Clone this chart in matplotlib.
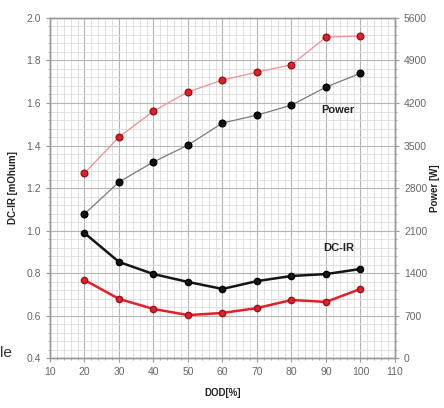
import matplotlib
matplotlib.use("Agg")
import matplotlib.pyplot as plt
from matplotlib.ticker import MultipleLocator

plt.rcParams['font.family'] = ['Liberation Sans Narrow', 'Liberation Sans', 'DejaVu Sans']

dod = [20, 30, 40, 50, 60, 70, 80, 90, 100]

# DC-IR [mOhum]
dcir_black = [0.988, 0.852, 0.795, 0.758, 0.725, 0.762, 0.786, 0.795, 0.819]
dcir_red = [0.767, 0.678, 0.631, 0.602, 0.612, 0.635, 0.673, 0.664, 0.725]

# Power [W]
power_black = [2373, 2898, 3230, 3507, 3871, 4000, 4165, 4462, 4690]
power_red = [3045, 3640, 4067, 4382, 4578, 4708, 4830, 5285, 5303]

fig = plt.figure(figsize=(4.44, 4.08), dpi=100)
ax = fig.add_axes([0.1126, 0.1225, 0.777, 0.8334])
ax2 = ax.twinx()

grid_major = '#b4b4b4'
grid_minor = '#dcdcdc'
tick_col = '#666666'

ax.set_xlim(10, 110)
ax.set_ylim(0.4, 2.0)
ax2.set_ylim(0, 5600)
ax.xaxis.set_major_locator(MultipleLocator(10))
ax.xaxis.set_minor_locator(MultipleLocator(2))
ax.yaxis.set_major_locator(MultipleLocator(0.2))
ax.yaxis.set_minor_locator(MultipleLocator(0.04))
ax2.yaxis.set_major_locator(MultipleLocator(700))
ax2.yaxis.set_minor_locator(MultipleLocator(140))

ax.grid(True, which='major', color=grid_major, lw=0.8)
ax.grid(True, which='minor', color=grid_minor, lw=0.6)
ax.set_axisbelow(True)

for a in (ax, ax2):
    for s in a.spines.values():
        s.set_color('#999999')
        s.set_linewidth(1.0)
    a.tick_params(which='both', colors='#999999', labelcolor=tick_col, labelsize=7.5,
                  direction='out')
    a.tick_params(which='major', length=3)
    a.tick_params(which='minor', length=1.5)

ax.yaxis.set_major_formatter(matplotlib.ticker.FormatStrFormatter('%.1f'))

# DC-IR curves (thick)
ax.plot(dod, dcir_black, color='#151515', lw=1.8, marker='o', ms=4.5,
        mfc='#151515', mec='#000000', zorder=3)
ax.plot(dod, dcir_red, color='#e0202a', lw=1.8, marker='o', ms=4.5,
        mfc='#e0202a', mec='#a01018', zorder=3)

# Power curves (thin)
ax2.plot(dod, power_black, color='#7a7a7a', lw=0.9, marker='o', ms=4.8,
         mfc='#111111', mec='#000000', zorder=3)
ax2.plot(dod, power_red, color='#f09090', lw=0.9, marker='o', ms=4.8,
         mfc='#e0202a', mec='#a01018', zorder=3)

ax.text(93.5, 1.565, 'Power', fontsize=8, fontweight='bold', color='#222222',
        ha='center', va='center')
ax.text(93.8, 0.918, 'DC-IR', fontsize=8, fontweight='bold', color='#222222',
        ha='center', va='center')

ax.set_xlabel('DOD[%]', fontsize=7, fontweight='bold', color='#222222', labelpad=8)
ax.set_ylabel('DC-IR [mOhum]', fontsize=7, fontweight='bold', color='#222222', labelpad=6)
ax2.set_ylabel('Power [W]', fontsize=7, fontweight='bold', color='#222222', labelpad=2)

fig.text(0.001, 0.135, 'le', fontsize=11, color='#333333', ha='left', va='center')

fig.savefig('out.png', dpi=100)
